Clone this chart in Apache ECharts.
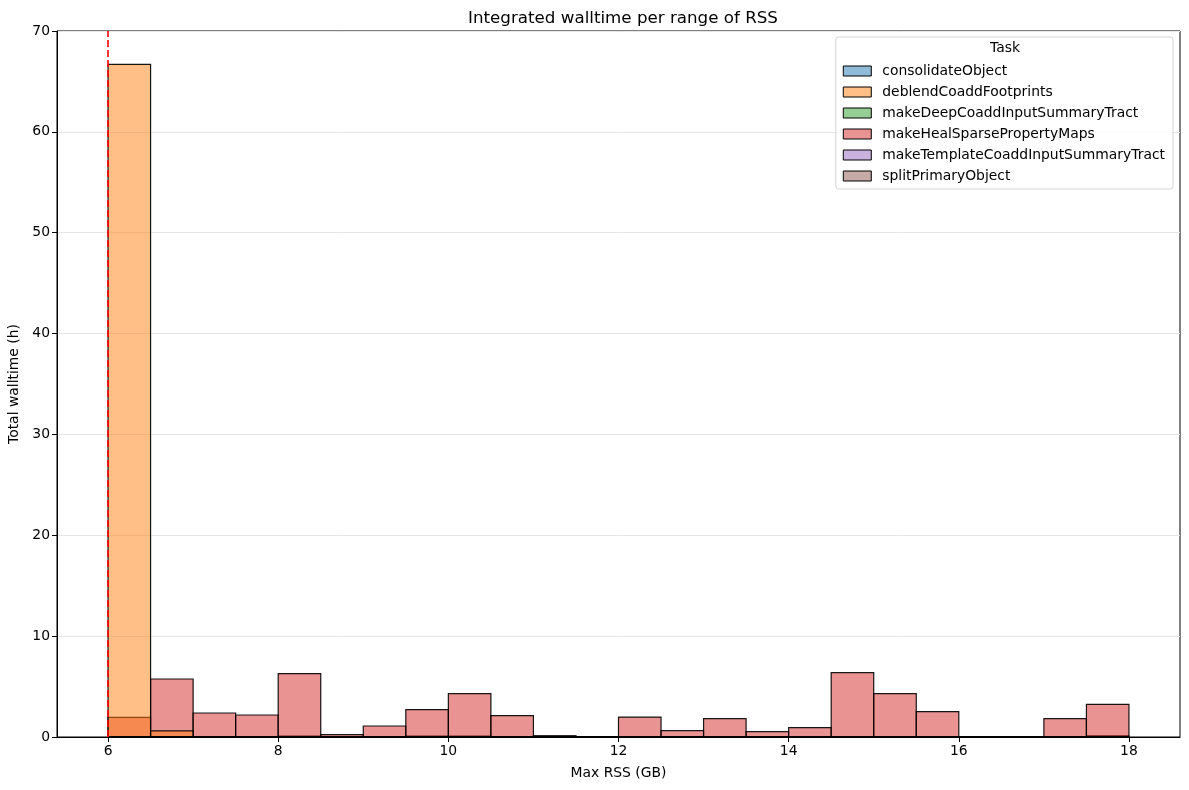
<!DOCTYPE html>
<html>
<head>
<meta charset="utf-8">
<script src="https://cdn.jsdelivr.net/npm/echarts@6/dist/echarts.min.js"></script>
<style>html,body{margin:0;padding:0;background:#fff}#c{width:1189px;height:790px}</style>
</head>
<body>
<div id="c"></div>
<script>
// Bin edges (GB), bin width 0.5
const binStarts = [6,6.5,7,7.5,8,8.5,9,9.5,10,10.5,11,11.5,12,12.5,13,13.5,14,14.5,15,15.5,16,16.5,17,17.5];
const binWidth = 0.5;
const tasks = ['consolidateObject','deblendCoaddFootprints','makeDeepCoaddInputSummaryTract','makeHealSparsePropertyMaps','makeTemplateCoaddInputSummaryTract','splitPrimaryObject'];
const taskColors = ['#1f77b4','#ff7f0e','#2ca02c','#d62728','#9467bd','#8c564b'];
// Total walltime (h) per bin, per task
const consolidateObject = [0.05,0.05,0,0,0.05,0,0,0.05,0.05,0,0.05,0,0,0.05,0,0,0,0,0,0,0,0,0,0.05];
const deblendCoaddFootprints = [66.7,0.6,0,0,0,0,0,0,0,0,0,0,0,0,0,0,0,0,0,0,0,0,0,0];
const makeDeepCoaddInputSummaryTract = [0,0,0,0,0,0,0,0,0,0,0.03,0,0,0,0,0,0,0,0,0,0,0,0,0];
const makeHealSparsePropertyMaps = [1.95,5.75,2.38,2.18,6.29,0.24,1.09,2.72,4.3,2.12,0.12,0.05,1.98,0.63,1.82,0.53,0.93,6.38,4.3,2.52,0,0,1.82,3.24];
const makeTemplateCoaddInputSummaryTract = [0,0,0,0,0,0,0,0,0,0,0,0,0,0.03,0,0,0,0,0,0,0,0,0,0];
const splitPrimaryObject = [0,0.05,0,0,0.1,0,0,0.1,0.1,0,0.08,0,0,0.05,0,0,0.05,0,0,0,0,0,0,0.12];
const taskValues = [consolidateObject, deblendCoaddFootprints, makeDeepCoaddInputSummaryTract, makeHealSparsePropertyMaps, makeTemplateCoaddInputSummaryTract, splitPrimaryObject];
const xTicks = [6,8,10,12,14,16,18];
const thresholdRSS = 6;

function hexA(h, a){
  const r=parseInt(h.slice(1,3),16), g=parseInt(h.slice(3,5),16), b=parseInt(h.slice(5,7),16);
  return 'rgba('+r+','+g+','+b+','+a+')';
}

const FONT = 'DejaVu Sans';
const FS = 13.9;
const series = [];
// seaborn layers: first hue drawn on top -> add in reverse
for (let k = tasks.length - 1; k >= 0; k--) {
  const fill = hexA(taskColors[k], 0.5);
  const data = binStarts.map((s, i) => [s, s + binWidth, taskValues[k][i]]);
  series.push({
    name: tasks[k],
    type: 'custom',
    data: data,
    encode: { x: [0, 1], y: 2 },
    itemStyle: { color: fill, borderColor: '#000', borderWidth: 1 },
    renderItem: function (params, api) {
      const x0 = api.value(0), x1 = api.value(1), y = api.value(2);
      const p0 = api.coord([x0, y]);
      const p1 = api.coord([x1, 0]);
      return {
        type: 'rect',
        shape: { x: p0[0], y: p0[1], width: p1[0] - p0[0], height: p1[1] - p0[1] },
        style: { fill: fill, stroke: 'rgba(0,0,0,0.9)', lineWidth: 1.2 }
      };
    },
    animation: false
  });
}
series.push({
  type: 'line',
  data: [],
  silent: true,
  markLine: {
    silent: true,
    symbol: ['none', 'none'],
    label: { show: false },
    lineStyle: { color: '#ff0000', type: [7, 3], width: 1.6 },
    data: [{ xAxis: thresholdRSS }],
    animation: false
  }
});

const chart = echarts.init(document.getElementById('c'), null, { renderer: 'canvas' });
chart.setOption({
  animation: false,
  backgroundColor: '#fff',
  title: {
    text: 'Integrated walltime per range of RSS',
    left: 618, top: 5, textAlign: 'center',
    textStyle: { fontFamily: FONT, fontSize: 16.7, fontWeight: 'normal', color: '#000' }
  },
  grid: { left: 57, right: 9, top: 31, bottom: 53, show: true, borderColor: '#000', borderWidth: 1, containLabel: false, outerBoundsMode: 'none' },
  legend: {
    data: tasks,
    orient: 'vertical',
    right: 16, top: 37,
    padding: [27, 8, 6, 7],
    itemGap: 7,
    itemWidth: 28, itemHeight: 10,
    icon: 'rect',
    itemStyle: { borderWidth: 1, borderColor: '#000' },
    backgroundColor: 'rgba(255,255,255,0.85)',
    borderColor: '#d4d4d4', borderWidth: 1, borderRadius: 3,
    selectedMode: false,
    textStyle: { fontFamily: FONT, fontSize: FS, color: '#000', lineHeight: 14, padding: [0, 0, 0, 6] }
  },
  graphic: [{
    type: 'text', left: 990, top: 41,
    style: { text: 'Task', fontFamily: FONT, fontSize: FS, fill: '#000' }, z: 100
  }],
  xAxis: {
    type: 'value', min: 5.4, max: 18.6,
    name: 'Max RSS (GB)', nameLocation: 'middle', nameGap: 29,
    nameTextStyle: { fontFamily: FONT, fontSize: FS, color: '#000' },
    axisLine: { show: true, onZero: false, lineStyle: { color: '#000', width: 1 } },
    axisTick: { show: true, length: 5, lineStyle: { color: '#000' }, customValues: xTicks },
    axisLabel: { fontFamily: FONT, fontSize: FS, color: '#000', margin: 7, customValues: xTicks },
    splitLine: { show: false }
  },
  yAxis: {
    type: 'value', min: 0, max: 70, interval: 10,
    name: 'Total walltime (h)', nameLocation: 'middle', nameGap: 35, nameRotate: 90,
    nameTextStyle: { fontFamily: FONT, fontSize: FS, color: '#000' },
    axisLine: { show: true, lineStyle: { color: '#000', width: 1 } },
    axisTick: { show: true, length: 5, lineStyle: { color: '#000' } },
    axisLabel: { fontFamily: FONT, fontSize: FS, color: '#000', margin: 7 },
    splitLine: { show: true, lineStyle: { color: '#e6e6e6', width: 1 } }
  },
  series: series
});
</script>
</body>
</html>
